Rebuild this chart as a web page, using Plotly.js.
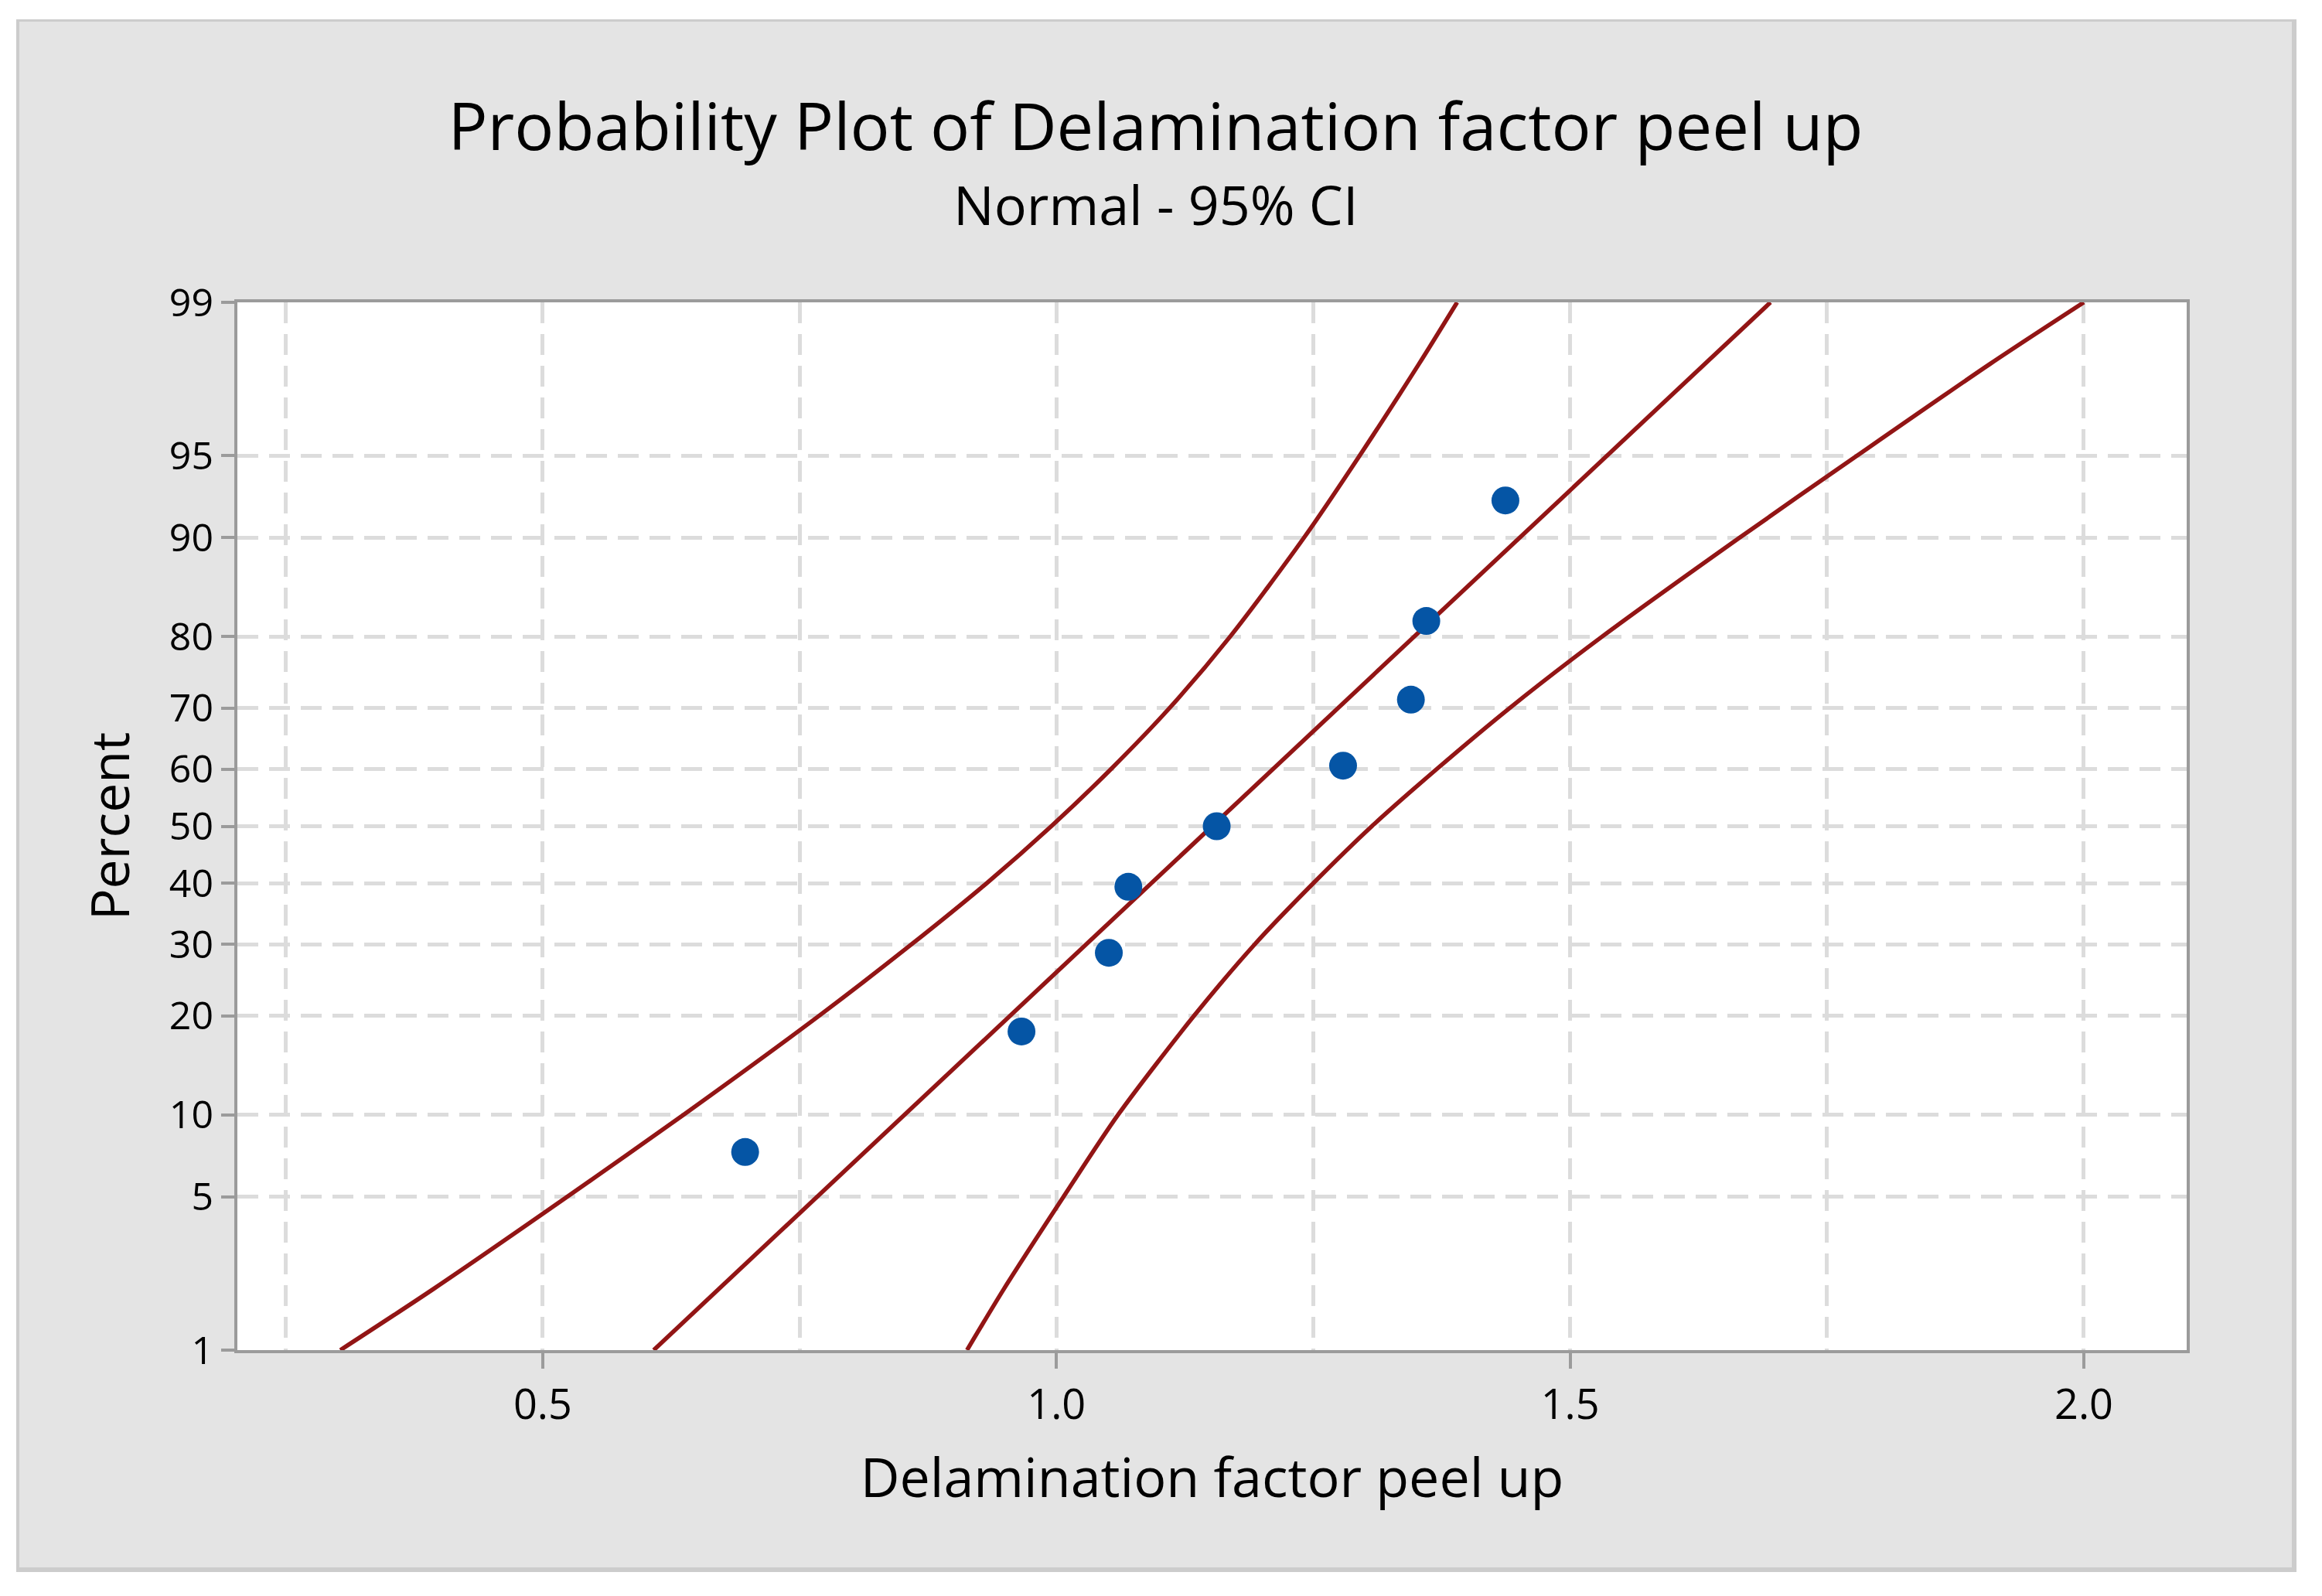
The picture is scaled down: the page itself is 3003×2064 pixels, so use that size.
<!DOCTYPE html>
<html>
<head>
<meta charset="utf-8">
<script src="https://cdn.plot.ly/plotly-3.0.1.min.js"></script>
<style>
  html, body { margin: 0; padding: 0; background: #ffffff; }
  #frame {
    position: absolute; left: 21px; top: 25px;
    width: 2939px; height: 1999px;
    border-left: 4px solid #cccccc; border-top: 3px solid #cccccc;
    border-right: 6px solid #cccccc; border-bottom: 6px solid #cccccc;
    background: #e4e4e4;
  }
  #chart { width: 2939px; height: 1999px; }
</style>
</head>
<body>
<div id="frame"><div id="chart"></div></div>
<script>
// ---- data ----
const obsX = [0.697, 0.966, 1.051, 1.070, 1.156, 1.279, 1.345, 1.360, 1.437];
const obsPct = [7.4, 18.1, 28.7, 39.4, 50.0, 60.6, 71.3, 81.9, 92.6];

const fitPct = [1, 50, 99];
const fitX = [0.608, 1.1515, 1.695];

const ciPct = [1, 2, 5, 10, 20, 30, 40, 50, 60, 70, 80, 90, 95, 98, 99];
const ciLower = [0.303, 0.394, 0.524, 0.637, 0.769, 0.859, 0.932, 0.995, 1.053, 1.110, 1.169, 1.241, 1.295, 1.353, 1.390];
const ciUpper = [0.913, 0.949, 1.007, 1.060, 1.134, 1.193, 1.250, 1.307, 1.370, 1.441, 1.531, 1.665, 1.779, 1.909, 2.000];

const yTickPct = [1, 5, 10, 20, 30, 40, 50, 60, 70, 80, 90, 95, 99];
const yTickText = ['1', '5', '10', '20', '30', '40', '50', '60', '70', '80', '90', '95', '99'];
const xTickVals = [0.5, 1.0, 1.5, 2.0];
const xTickText = ['0.5', '1.0', '1.5', '2.0'];

// ---- normal probability scale (inverse normal CDF, Acklam) ----
function normInv(p) {
  const a = [-3.969683028665376e+01, 2.209460984245205e+02, -2.759285104469687e+02,
             1.383577518672690e+02, -3.066479806614716e+01, 2.506628277459239e+00];
  const b = [-5.447609879822406e+01, 1.615858368580409e+02, -1.556989798598866e+02,
             6.680131188771972e+01, -1.328068155288572e+01];
  const c = [-7.784894002430293e-03, -3.223964580411365e-01, -2.400758277161838e+00,
             -2.549732539343734e+00, 4.374664141464968e+00, 2.938163982698783e+00];
  const d = [7.784695709041462e-03, 3.224671290700398e-01, 2.445134137142996e+00,
             3.754408661907416e+00];
  const pl = 0.02425, ph = 1 - pl;
  let q, r;
  if (p < pl) {
    q = Math.sqrt(-2 * Math.log(p));
    return (((((c[0]*q+c[1])*q+c[2])*q+c[3])*q+c[4])*q+c[5]) /
           ((((d[0]*q+d[1])*q+d[2])*q+d[3])*q+1);
  } else if (p <= ph) {
    q = p - 0.5; r = q * q;
    return (((((a[0]*r+a[1])*r+a[2])*r+a[3])*r+a[4])*r+a[5])*q /
           (((((b[0]*r+b[1])*r+b[2])*r+b[3])*r+b[4])*r+1);
  } else {
    q = Math.sqrt(-2 * Math.log(1 - p));
    return -(((((c[0]*q+c[1])*q+c[2])*q+c[3])*q+c[4])*q+c[5]) /
            ((((d[0]*q+d[1])*q+d[2])*q+d[3])*q+1);
  }
}
const z = pct => pct.map(v => normInv(v / 100));

const lineColor = '#921515';
const gridColor = '#dcdcdc';
const axisColor = '#9b9b9b';
const FONT = '"Open Sans", "Noto Sans", sans-serif';

const traces = [
  { x: ciLower, y: z(ciPct), type: 'scatter', mode: 'lines',
    line: { color: lineColor, width: 5.5, shape: 'spline', smoothing: 0.8 }, name: 'Lower CI' },
  { x: fitX, y: z(fitPct), type: 'scatter', mode: 'lines',
    line: { color: lineColor, width: 5.5 }, name: 'Fit' },
  { x: ciUpper, y: z(ciPct), type: 'scatter', mode: 'lines',
    line: { color: lineColor, width: 5.5, shape: 'spline', smoothing: 0.8 }, name: 'Upper CI' },
  { x: obsX, y: z(obsPct), type: 'scatter', mode: 'markers',
    marker: { color: '#0555a5', size: 36, symbol: 'circle' }, name: 'Data' }
];

const zLo = normInv(0.01), zHi = normInv(0.99);

const layout = {
  width: 2939, height: 1999,
  paper_bgcolor: '#e4e4e4', plot_bgcolor: '#ffffff',
  showlegend: false,
  margin: { l: 282, r: 136, t: 363, b: 281, pad: 0 },
  font: { family: FONT, color: '#000000' },
  title: {
    text: 'Probability Plot of Delamination factor peel up',
    font: { family: FONT, size: 85, color: '#000000' },
    x: 0.5, xref: 'container', xanchor: 'center',
    y: 0.932, yref: 'container', yanchor: 'middle'
  },
  annotations: [{
    text: 'Normal - 95% CI', showarrow: false,
    xref: 'paper', x: (1494.5 - 307) / 2521 , xanchor: 'center',
    yref: 'paper', y: 1.094, yanchor: 'middle',
    font: { family: FONT, size: 70, color: '#000000' }
  }],
  xaxis: {
    range: [0.2028, 2.1001],
    tickvals: xTickVals, ticktext: xTickText,
    tickfont: { family: FONT, size: 54, color: '#000000' },
    ticks: 'outside', ticklen: 20, tickwidth: 4, tickcolor: axisColor,
    showline: true, linecolor: axisColor, linewidth: 4, mirror: true,
    showgrid: true, gridcolor: gridColor, gridwidth: 5, griddash: '27px,14px',
    minor: { dtick: 0.25, tick0: 0, showgrid: true, gridcolor: gridColor, gridwidth: 5, griddash: '27px,14px', ticks: '' },
    zeroline: false,
    title: { text: 'Delamination factor peel up', font: { family: FONT, size: 70, color: '#000000' }, standoff: 38 }
  },
  yaxis: {
    range: [zLo, zHi],
    tickvals: z(yTickPct), ticktext: yTickText,
    tickfont: { family: FONT, size: 50, color: '#000000' },
    ticks: 'outside', ticklen: 17, tickwidth: 4, tickcolor: axisColor,
    showline: true, linecolor: axisColor, linewidth: 4, mirror: true,
    showgrid: true, gridcolor: gridColor, gridwidth: 5, griddash: '27px,14px',
    zeroline: false,
    title: { text: 'Percent', font: { family: FONT, size: 68, color: '#000000' }, standoff: 30 }
  }
};

Plotly.newPlot('chart', traces, layout, { displayModeBar: false, staticPlot: true });
</script>
</body>
</html>
